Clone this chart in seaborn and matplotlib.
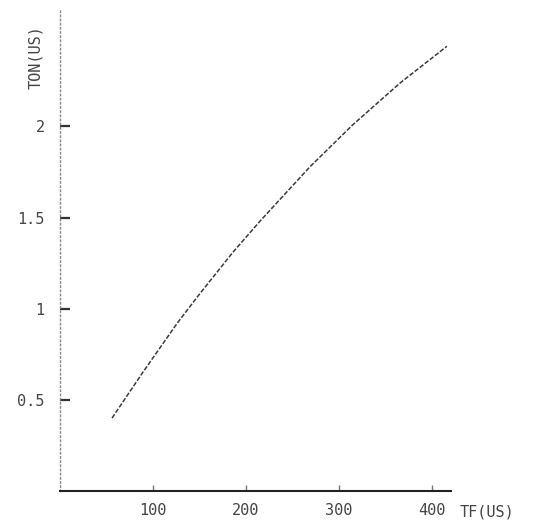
import numpy as np
import pandas as pd
import matplotlib
matplotlib.use("Agg")
import matplotlib.pyplot as plt
import seaborn as sns

# ============================================================
# TON vs TF curve (scanned plotter-style chart)
# ============================================================

tf_us = [56, 89, 126, 150, 186, 215, 233, 269, 315, 366, 416]
ton_us = [0.40, 0.65, 0.92, 1.08, 1.31, 1.48, 1.58, 1.78, 2.01, 2.24, 2.44]

x_ticks = [100, 200, 300, 400]
y_ticks = [0.5, 1, 1.5, 2]
y_tick_labels = ["0.5", "1", "1.5", "2"]


def main():
    sns.set_style("white")
    plt.rcParams["font.family"] = ["DejaVu Sans Mono", "DejaVu Sans"]

    df = pd.DataFrame({"TF": tf_us, "TON": ton_us})

    fig = plt.figure(figsize=(5.58, 5.20), dpi=100)
    ax = fig.add_axes([0.1075, 0.056, 0.70, 0.925])

    sns.lineplot(data=df, x="TF", y="TON", ax=ax, color="#3a3a3a",
                 linewidth=1.1, linestyle=(0, (3, 1.2)))

    ax.set_xlim(0, 420)
    ax.set_ylim(0, 2.64)
    ax.set_xticks(x_ticks)
    ax.set_xticklabels([str(t) for t in x_ticks])
    ax.set_yticks(y_ticks)
    ax.set_yticklabels(y_tick_labels)
    ax.set_xlabel("")
    ax.set_ylabel("")

    # Plotter style axes: dotted y axis, solid x axis, inward ticks
    for side in ["top", "right"]:
        ax.spines[side].set_visible(False)
    ax.spines["left"].set_linestyle((0, (1, 2)))
    ax.spines["left"].set_color("#888888")
    ax.spines["left"].set_linewidth(1.0)
    ax.spines["bottom"].set_color("#222222")
    ax.spines["bottom"].set_linewidth(1.5)

    ax.tick_params(axis="y", left=True, direction="in", length=7, width=1.6,
                   color="#333333", pad=11, labelsize=11, labelcolor="#444444")
    ax.tick_params(axis="x", bottom=True, direction="in", length=4, width=1.0,
                   color="#777777", pad=9, labelsize=11, labelcolor="#444444")

    # Axis titles placed like the original plotter output
    fig.text(36 / 558, 1 - 57 / 520, "TON(US)", rotation=90,
             ha="center", va="center", fontsize=11, color="#444444")
    fig.text(487 / 558, 1 - 512 / 520, "TF(US)",
             ha="center", va="center", fontsize=11, color="#444444")

    fig.savefig("out.png", dpi=100)


if __name__ == "__main__":
    main()
